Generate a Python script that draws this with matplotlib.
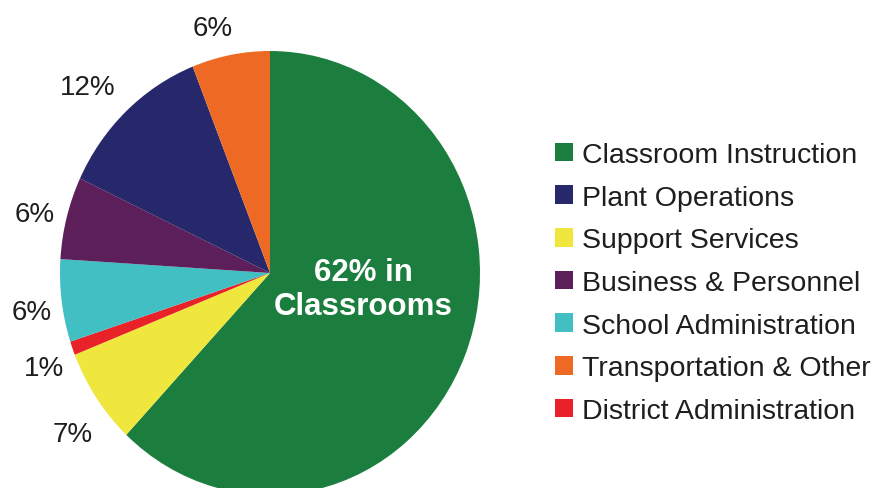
import matplotlib
matplotlib.use("Agg")
import matplotlib.pyplot as plt

plt.rcParams['font.family'] = ['Liberation Sans', 'DejaVu Sans']

# Data (pie order, clockwise from top)
pie_labels = ["Classroom Instruction", "Support Services", "District Administration",
              "School Administration", "Business & Personnel", "Plant Operations",
              "Transportation & Other"]
pie_values = [62, 7, 1, 6, 6, 12, 6]
pie_colors = ["#1b7e3e", "#efe63e", "#e82228", "#42bfc3", "#5c1f5a", "#27286b", "#ee6a24"]
pct_text = ["", "7%", "1%", "6%", "6%", "12%", "6%"]

legend_order = ["Classroom Instruction", "Plant Operations", "Support Services",
                "Business & Personnel", "School Administration",
                "Transportation & Other", "District Administration"]

W, H = 883, 489
fig = plt.figure(figsize=(W / 100, H / 100), dpi=100)

# pie axes: ellipse centered at (270, 274) px, rx=210, ry=222
cx, cy, rx, ry = 270, 274, 210, 222
ax = fig.add_axes([(cx - rx) / W, 1 - (cy + ry) / H, 2 * rx / W, 2 * ry / H])
wedges, _ = ax.pie(pie_values, colors=pie_colors, startangle=90, counterclock=False,
                   radius=1, wedgeprops=dict(linewidth=0))
ax.set_aspect('auto')
ax.set_xlim(-1, 1)
ax.set_ylim(-1, 1)
ax.axis('off')

# overlay axes in pixel coords for text
tx = fig.add_axes([0, 0, 1, 1])
tx.set_xlim(0, W)
tx.set_ylim(H, 0)
tx.axis('off')

label_pos = {1: (73, 435), 2: (44, 369), 3: (32, 313), 4: (35, 215), 5: (88, 88), 6: (213, 29)}
for i, (x, y) in label_pos.items():
    tx.text(x, y, pct_text[i], fontsize=20, ha='center', va='center', color='#1e1e1e')

tx.text(363, 290, f"{pie_values[0]}% in\nClassrooms", fontsize=22.5, fontweight='bold',
        color='white', ha='center', va='center', linespacing=1.15)

handles = [wedges[pie_labels.index(n)] for n in legend_order]
leg = fig.legend(handles, legend_order, loc='upper left',
                 bbox_to_anchor=(555 / W, 1 - 143 / H), frameon=False,
                 fontsize=20.5, handlelength=0.63, handleheight=0.63,
                 handletextpad=0.32, labelspacing=0.585, borderpad=0, borderaxespad=0)
for t in leg.get_texts():
    t.set_color('#1e1e1e')

fig.savefig("out.png", dpi=100)
